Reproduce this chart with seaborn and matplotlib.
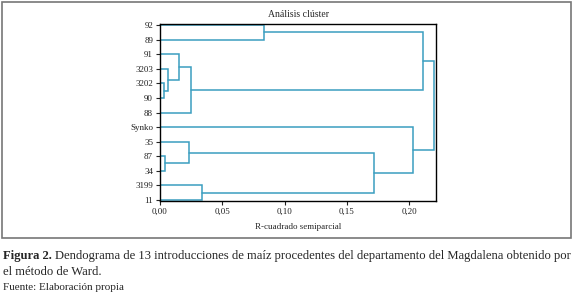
import numpy as np
import pandas as pd
import matplotlib.pyplot as plt
import matplotlib.patches as mpatches
import seaborn as sns

# Leaves, top to bottom
leaves = ['92', '89', '91', '3203', '3202', '90', '88', 'Synko', '35', '87', '34', '3199', '11']

# Ward merges: joined clusters, semipartial R-squared, name of new cluster
merge_a = ['90', '3203', '91', 'c', '92', 'e', '87', '35', '3199', 'h', 'Synko', 'f']
merge_b = ['3202', 'a', 'b', '88', '89', 'd', '34', 'g', '11', 'i', 'j', 'k']
merge_h = [0.0035, 0.0067, 0.0155, 0.0250, 0.0835, 0.2108,
           0.0043, 0.0235, 0.0340, 0.1715, 0.2033, 0.2201]
merge_name = ['a', 'b', 'c', 'd', 'e', 'f', 'g', 'h', 'i', 'j', 'k', 'root']

xticks = [0.0, 0.05, 0.10, 0.15, 0.20]
xtick_labels = ['0,00', '0,05', '0,10', '0,15', '0,20']

sns.set_style('ticks')
plt.rcParams['font.family'] = ['Liberation Serif', 'DejaVu Serif']

line_color = '#3a9ec0'

fig = plt.figure(figsize=(5.73, 2.97), dpi=100)
ax = fig.add_axes([160 / 573, 1 - 201 / 297, 276 / 573, 177 / 297])

# y position of each node
pos = {name: i for i, name in enumerate(leaves)}
height = {name: 0.0 for name in leaves}
for left, right, h, new in zip(merge_a, merge_b, merge_h, merge_name):
    yl, yr = pos[left], pos[right]
    ax.plot([height[left], h, h, height[right]], [yl, yl, yr, yr],
            color=line_color, lw=1.1, solid_joinstyle='miter')
    pos[new] = (yl + yr) / 2
    height[new] = h

ax.set_ylim(len(leaves) - 1 + 0.08, -0.08)
ax.set_xlim(0, 0.2215)
ax.set_yticks(range(len(leaves)))
ax.set_yticklabels(leaves)
ax.set_xticks(xticks)
ax.set_xticklabels(xtick_labels)
ax.tick_params(axis='both', labelsize=6.5, length=3, width=0.8, pad=2, colors='#222222')
for s in ax.spines.values():
    s.set_linewidth(1.0)
    s.set_color('black')
ax.set_title('Análisis clúster', fontsize=7, pad=5)
ax.set_xlabel('R-cuadrado semiparcial', fontsize=6.5, labelpad=5)

# outer frame
fig.patches.append(mpatches.Rectangle((2 / 573, 1 - 238 / 297), 569 / 573, 236 / 297,
                                      transform=fig.transFigure, fill=False,
                                      edgecolor='#777777', lw=1.2))

# caption, first line sized to fit the width
cap_size = 9.2
renderer = fig.canvas.get_renderer()
t1 = fig.text(3 / 573, 1 - 256 / 297, 'Figura 2.', fontsize=cap_size,
              fontweight='bold', va='center')
t2 = fig.text(0, 1 - 256 / 297,
              'Dendograma de 13 introducciones de maíz procedentes del departamento del Magdalena obtenido por',
              fontsize=cap_size, va='center')
total = t1.get_window_extent(renderer).width + 3 + t2.get_window_extent(renderer).width
cap_size = cap_size * 566 / total
t1.set_fontsize(cap_size)
t2.set_fontsize(cap_size)
w1 = t1.get_window_extent(renderer).width
t2.set_x((3 + w1 + 3) / 573)
fig.text(3 / 573, 1 - 272 / 297, 'el método de Ward.', fontsize=cap_size, va='center')
fig.text(3 / 573, 1 - 288 / 297, 'Fuente: Elaboración propia', fontsize=8, va='center')

fig.savefig('out.png', dpi=100)
